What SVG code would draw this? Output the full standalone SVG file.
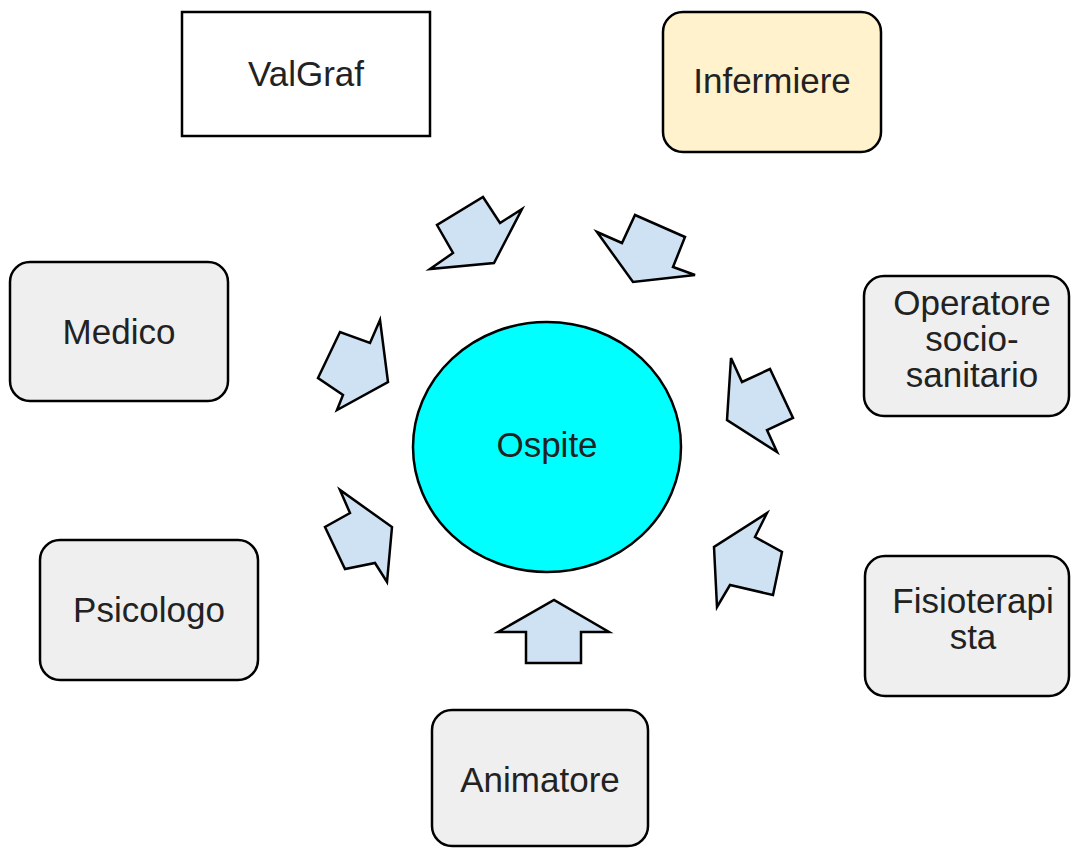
<svg xmlns="http://www.w3.org/2000/svg" width="1074" height="849" viewBox="0 0 1074 849">
<style>
.box{stroke:#000;stroke-width:2.5;fill:#efefef}
.t{font-family:"Liberation Sans",Arial,sans-serif;font-size:35px;fill:#222;text-anchor:middle}
.arr{fill:#cfe2f3;stroke:#000;stroke-width:2.5;stroke-linejoin:miter}
</style>
<rect width="1074" height="849" fill="#fff"/>
<g id="valgraf"><rect x="182" y="12" width="248" height="124" fill="#fff" stroke="#000" stroke-width="2.5"/><text class="t" x="306" y="86">ValGraf</text></g>
<g id="infermiere"><rect x="663" y="12" width="218" height="140" rx="20" class="box" fill="#fff2cc" style="fill:#fff2cc"/><text class="t" x="772" y="93">Infermiere</text></g>
<g id="medico"><rect x="10" y="262" width="218" height="139" rx="20" class="box"/><text class="t" x="119" y="344">Medico</text></g>
<g id="operatore"><rect x="864" y="276" width="205" height="140" rx="20" class="box"/><text class="t" x="972" y="315">Operatore</text><text class="t" x="972" y="351">socio-</text><text class="t" x="972" y="387">sanitario</text></g>
<g id="psicologo"><rect x="40" y="540" width="218" height="140" rx="20" class="box"/><text class="t" x="149" y="622">Psicologo</text></g>
<g id="fisioterapista"><rect x="865" y="556" width="204" height="140" rx="20" class="box"/><text class="t" x="973" y="613">Fisioterapi</text><text class="t" x="973" y="649">sta</text></g>
<g id="animatore"><rect x="432" y="710" width="216" height="136" rx="20" class="box"/><text class="t" x="540" y="792">Animatore</text></g>
<g id="ospite"><ellipse cx="547" cy="447" rx="134" ry="125" fill="#00ffff" stroke="#000" stroke-width="2.5"/><text class="t" x="547" y="457">Ospite</text></g>
<g id="connectors">
<polygon class="arr" points="430,269 453,253 437,225 483,197 500,223 522,209 494,263"/>
<polygon class="arr" points="597,232 622,243 635,215 685,237 673,267 695,275 633,282"/>
<polygon class="arr" points="380,320 370,343 340,332 318,378 343,395 337,410 388,382"/>
<polygon class="arr" points="340,490 350,513 325,527 345,569 375,563 387,582 392,527"/>
<polygon class="arr" points="731,358 742,382 770,369 793,418 767,430 777,452 727,420"/>
<polygon class="arr" points="767,513 755,537 782,552 773,595 730,585 717,607 714,547"/>
<polygon class="arr" points="498,632 554,600 609,632 581,632 581,663 526,663 526,632"/>
</g>
</svg>
